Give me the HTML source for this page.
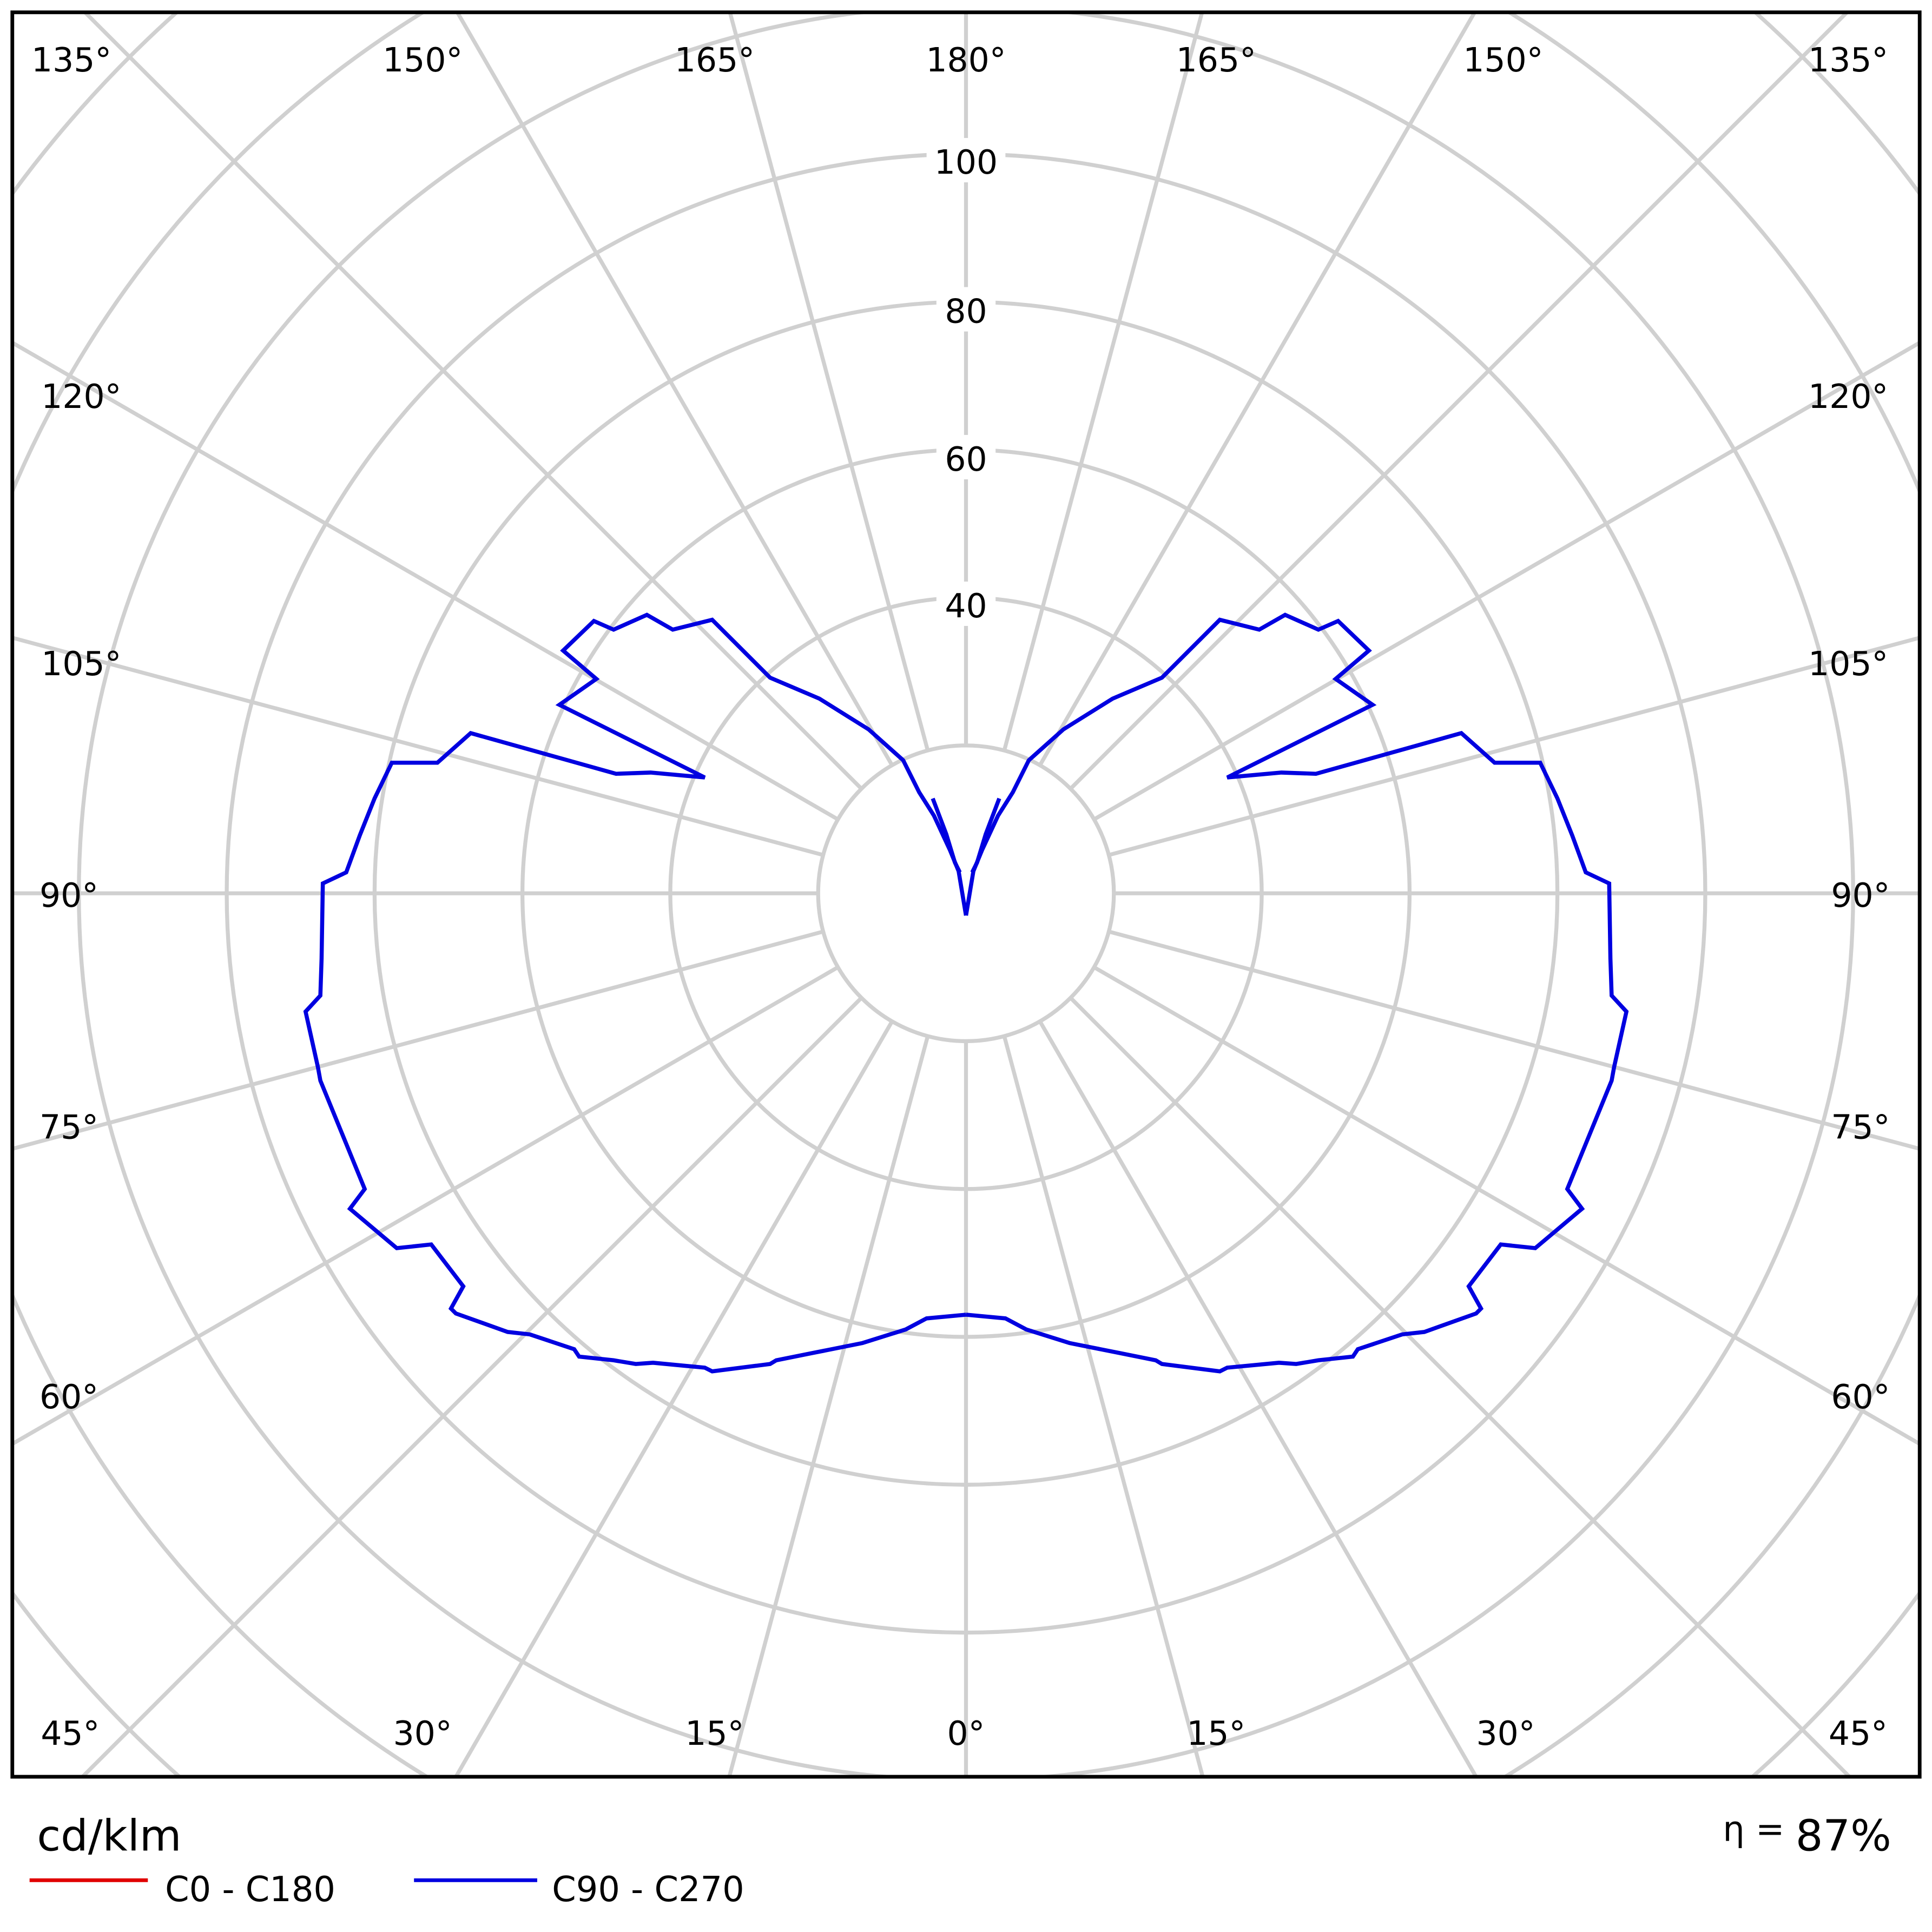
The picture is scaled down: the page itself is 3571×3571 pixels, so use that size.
<!DOCTYPE html>
<html><head><style>html,body{margin:0;padding:0;background:#fff;width:3571px;height:3571px;overflow:hidden}svg{display:block}</style></head>
<body>
<svg xmlns="http://www.w3.org/2000/svg" width="3571" height="3571" viewBox="0 0 1568 1568">
<defs><clipPath id="f"><rect x="10" y="10" width="1548" height="1432"/></clipPath></defs>
<rect width="1568" height="1568" fill="#fff"/>
<g clip-path="url(#f)" stroke="#d0d0d0" stroke-width="3.2" fill="none">
<circle cx="784" cy="725" r="120"/><circle cx="784" cy="725" r="240"/><circle cx="784" cy="725" r="360"/>
<circle cx="784" cy="725" r="480"/><circle cx="784" cy="725" r="600"/><circle cx="784" cy="725" r="720"/>
<circle cx="784" cy="725" r="840"/><circle cx="784" cy="725" r="960"/><circle cx="784" cy="725" r="1080"/>
<g id="r">
<line x1="784" y1="845" x2="784" y2="1900"/>
<line x1="784" y1="845" x2="784" y2="1900" transform="rotate(15 784 725)"/>
<line x1="784" y1="845" x2="784" y2="1900" transform="rotate(30 784 725)"/>
<line x1="784" y1="845" x2="784" y2="1900" transform="rotate(45 784 725)"/>
<line x1="784" y1="845" x2="784" y2="1900" transform="rotate(60 784 725)"/>
<line x1="784" y1="845" x2="784" y2="1900" transform="rotate(75 784 725)"/>
<line x1="784" y1="845" x2="784" y2="1900" transform="rotate(90 784 725)"/>
<line x1="784" y1="845" x2="784" y2="1900" transform="rotate(105 784 725)"/>
<line x1="784" y1="845" x2="784" y2="1900" transform="rotate(120 784 725)"/>
<line x1="784" y1="845" x2="784" y2="1900" transform="rotate(135 784 725)"/>
<line x1="784" y1="845" x2="784" y2="1900" transform="rotate(150 784 725)"/>
<line x1="784" y1="845" x2="784" y2="1900" transform="rotate(165 784 725)"/>
</g>
<use href="#r" transform="rotate(180 784 725)"/>
</g>
<g font-family="DejaVu Sans, Liberation Sans, sans-serif" font-size="27" text-anchor="middle" fill="#000">
<g fill="#fff" stroke="none">
<rect x="752" y="112" width="64" height="36"/><rect x="760" y="233" width="48" height="36"/>
<rect x="760" y="353" width="48" height="36"/><rect x="760" y="472" width="48" height="36"/>
</g>
<text x="784" y="141">100</text><text x="784" y="262">80</text><text x="784" y="382">60</text><text x="784" y="501">40</text>
<text x="58" y="58">135°</text><text x="343" y="58">150°</text><text x="580" y="58">165°</text><text x="784" y="58">180°</text>
<text x="987" y="58">165°</text><text x="1220" y="58">150°</text><text x="1500" y="58">135°</text>
<text x="66" y="331">120°</text><text x="66" y="548">105°</text><text x="56" y="736">90°</text><text x="56" y="924">75°</text><text x="56" y="1143">60°</text>
<text x="1500" y="331">120°</text><text x="1500" y="548">105°</text><text x="1510" y="736">90°</text><text x="1510" y="924">75°</text><text x="1510" y="1143">60°</text>
<text x="57" y="1416">45°</text><text x="343" y="1416">30°</text><text x="580" y="1416">15°</text><text x="784" y="1416">0°</text>
<text x="987" y="1416">15°</text><text x="1222" y="1416">30°</text><text x="1508" y="1416">45°</text>
</g>
<g id="c" fill="none" stroke="#0000e0" stroke-width="3.3" stroke-linejoin="miter">
<polyline points="784,1067 752,1070 735,1079 700,1090 660,1098 630,1104 625,1107 578,1113 572,1110 530,1106 516,1107 498,1104 470,1101 466,1095 430,1083 412,1081 370,1066 366,1062 376,1044 350,1010 322,1013 284,981 296,965 260,877 258,866 248,821 260,808 261,778 262,717 281,708 292,678 304,648 318,619 355,619 382,595 500,628 528,627 572,631 454,572 484,551 457,528 482,504 498,511 525,499 546,511 578,503 625,550 665,567 705,592 733,617 746,643 758,662 771,690 778,707 781,725 784,743"/>
<polyline points="757,648 768,677 775,700 779,708"/>
</g>
<use href="#c" transform="translate(1568,0) scale(-1,1)"/>
<rect x="10" y="10" width="1548" height="1432" fill="none" stroke="#000" stroke-width="3"/>
<g font-family="DejaVu Sans, Liberation Sans, sans-serif" fill="#000">
<text x="30" y="1502" font-size="35">cd/klm</text>
<text x="1535" y="1502" font-size="35" text-anchor="end"><tspan font-size="28" dy="-8">η = </tspan><tspan dy="8">87%</tspan></text>
<line x1="24" y1="1526" x2="120" y2="1526" stroke="#e00000" stroke-width="3"/>
<text x="134" y="1543" font-size="28">C0 - C180</text>
<line x1="336" y1="1526" x2="436" y2="1526" stroke="#0000e0" stroke-width="3"/>
<text x="448" y="1543" font-size="28">C90 - C270</text>
</g>
</svg>
</body></html>
